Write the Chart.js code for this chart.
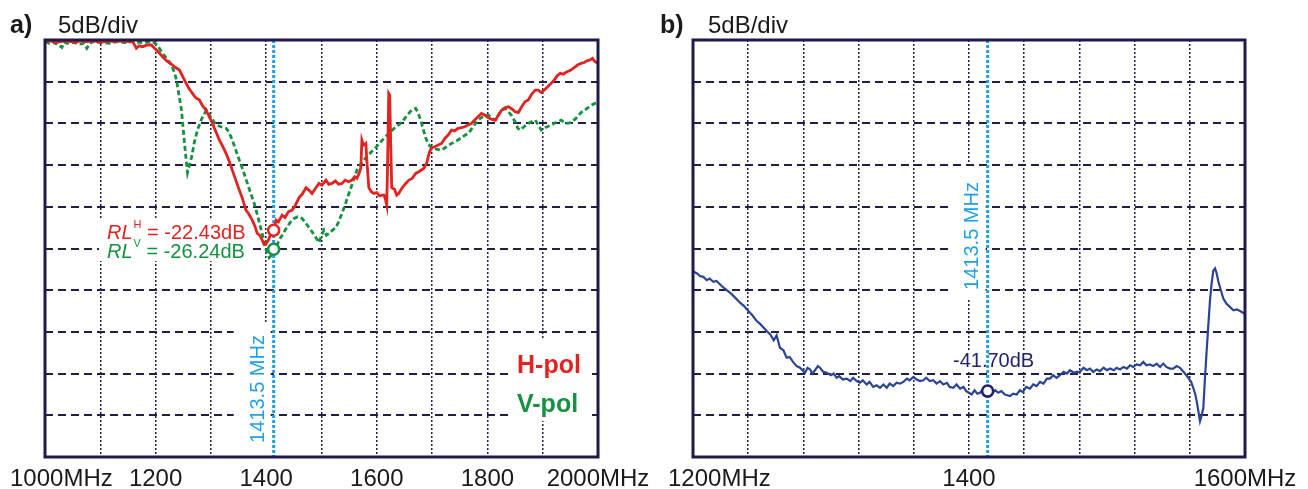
<!DOCTYPE html>
<html>
<head>
<meta charset="utf-8">
<script src="https://cdn.jsdelivr.net/npm/chart.js@4"></script>
<style>
  html, body { margin: 0; padding: 0; background: #fff; }
  .panel { position: absolute; top: 0; width: 654px; height: 489px; }
  #panelA { left: 0; }
  #panelB { left: 654px; }
</style>
</head>
<body>
<div class="panel" id="panelA"><canvas id="chartA" width="654" height="489"></canvas></div>
<div class="panel" id="panelB"><canvas id="chartB" width="654" height="489"></canvas></div>
<script>
// marker frequency (MHz)
const markerMHz = 1413.5;

// panel a) H-pol trace
const hFreq = [1000, 1010, 1020, 1027, 1040, 1055, 1063, 1075, 1090, 1099, 1115, 1125, 1135, 1150, 1158.6,
  1165.2, 1170, 1176.6, 1185, 1192.3, 1201.3, 1206, 1212.6, 1220, 1230.6, 1236, 1243.2, 1250, 1255.3, 1260,
  1266.7, 1272, 1279.3, 1285, 1291.4, 1297, 1302.7, 1309, 1315.3, 1321, 1327.4, 1333, 1338.7, 1345, 1351.4,
  1357, 1363.4, 1368, 1374.8, 1380, 1383.8, 1388, 1392.8, 1396, 1400, 1404, 1409, 1413.5, 1418, 1422,
  1428.8, 1434, 1440, 1446.9, 1452, 1459.5, 1465, 1472.1, 1477, 1482.9, 1488, 1495.5, 1501, 1508.1, 1513,
  1518.9, 1525, 1531, 1537, 1543, 1549, 1555, 1560, 1564, 1568, 1571.2, 1573, 1576, 1580.2, 1582,
  1585.6, 1590, 1594.6, 1600, 1605, 1609, 1613, 1616, 1618, 1619.5, 1621.6, 1623.4, 1625, 1627, 1632,
  1636, 1639.6, 1645, 1652.3, 1658, 1664, 1670.3, 1676, 1684.7, 1690, 1695, 1699.1, 1705, 1711, 1717.1,
  1723, 1729, 1735.1, 1741, 1747, 1753.1, 1759, 1765, 1771.2, 1777, 1783, 1789.2, 1795, 1801, 1807,
  1814.4, 1820, 1826, 1832.4, 1838, 1845, 1850, 1855.9, 1862, 1868, 1873.9, 1880, 1886.5, 1892, 1897.3,
  1903, 1909, 1915.3, 1921, 1926, 1931.5, 1937, 1944, 1951.3, 1957, 1963, 1969.4, 1975, 1980, 1985.6,
  1990, 1994.6, 2000];
const hDb = [-0.2, -0.1, -0.3, -0.2, -0.1, -0.3, -0.1, -0.2, -0.1, -0.3, -0.1, -0.2, -0.1, -0.2, -0.2,
  -1.0, -0.7, -0.8, -0.6, -0.6, -1.2, -1.5, -2.0, -2.5, -3.0, -3.3, -3.6, -4.5, -5.2, -5.8,
  -6.4, -6.9, -7.2, -7.9, -8.4, -9.2, -10.0, -11.0, -12.0, -12.7, -13.6, -14.5, -15.6, -16.8, -18.0,
  -19.0, -20.4, -20.8, -21.6, -22.4, -23.2, -23.4, -24.0, -24.5, -24.4, -24.0, -23.1, -22.8, -21.6, -21.8,
  -21.0, -21.3, -20.6, -20.4, -19.9, -18.9, -18.5, -17.7, -18.0, -18.4, -17.9, -17.2, -17.4, -16.8, -17.3,
  -17.2, -16.9, -17.3, -17.2, -16.8, -17.0, -16.8, -16.4, -16.6, -16.0, -15.3, -12.0, -12.6, -12.4, -14.5,
  -17.7, -18.2, -18.4, -18.3, -18.7, -18.6, -18.6, -19.2, -19.8, -15.0, -6.4, -6.6, -12.0, -17.7, -17.9,
  -18.6, -18.4, -17.8, -17.2, -16.8, -16.6, -16.0, -15.8, -15.4, -14.8, -13.5, -12.9, -12.8, -12.6, -12.4,
  -11.8, -11.4, -10.8, -10.9, -10.6, -10.5, -10.4, -10.2, -10.0, -9.6, -9.2, -8.8, -9.0, -9.3, -9.5,
  -9.6, -9.0, -8.4, -8.1, -8.0, -8.3, -8.6, -8.7, -8.0, -7.4, -7.2, -6.5, -6.0, -6.0, -6.3,
  -6.0, -5.6, -5.2, -4.8, -4.3, -4.0, -4.1, -3.8, -3.6, -3.3, -3.0, -2.8, -2.7, -2.5, -2.4,
  -2.2, -2.6, -2.8];

// panel a) V-pol trace
const vFreq = [1000, 1008, 1015, 1022, 1030.6, 1035, 1039.6, 1050, 1063, 1070, 1075.7, 1081, 1086.5, 1100,
  1117, 1130, 1145, 1158.6, 1175, 1194.6, 1203, 1212.6, 1220, 1228.8, 1234, 1237.8, 1242, 1246.8, 1249.5,
  1252.3, 1255, 1257.7, 1260.5, 1264.9, 1270, 1275.7, 1283, 1291.9, 1300, 1309.9, 1318, 1327.9, 1333,
  1338.7, 1345, 1351.4, 1358, 1364, 1371, 1378.4, 1385, 1391, 1396, 1400, 1405.4, 1410, 1414.4, 1419,
  1423.4, 1430, 1436, 1443, 1450.5, 1457, 1464.9, 1471, 1477.5, 1484, 1490.1, 1495.5, 1500, 1504.5, 1509,
  1513.5, 1520, 1526.1, 1531, 1536.9, 1543, 1549.5, 1557, 1564, 1572, 1580.2, 1589, 1598.2, 1610, 1621.6,
  1633, 1645, 1654, 1663, 1670.3, 1675, 1679.3, 1684, 1688.3, 1693, 1699.1, 1708, 1717.1, 1726, 1735.1,
  1744, 1753.1, 1760, 1765.8, 1772, 1778.4, 1784, 1789.2, 1795, 1801.8, 1808, 1814.4, 1820, 1826, 1832.4,
  1838, 1843.2, 1850, 1855, 1859.5, 1866, 1873.9, 1880, 1886.5, 1892, 1897.3, 1905, 1915.3, 1924, 1933.3,
  1942, 1951.3, 1960, 1969.4, 1976, 1982, 1988, 1994.6, 2000];
const vDb = [-0.2, -0.4, -0.3, -0.5, -0.9, -0.3, -0.4, -0.3, -0.5, -0.4, -1.0, -0.4, -0.2, -0.3,
  -0.4, -0.2, -0.3, -0.2, -0.3, -0.2, -0.6, -1.6, -2.2, -3.0, -3.9, -4.8, -6.5, -8.4, -10.4,
  -12.4, -14.2, -15.9, -15.2, -14.1, -12.3, -10.8, -9.5, -8.4, -9.3, -10.2, -10.4, -10.6, -11.1,
  -12.0, -13.2, -14.4, -15.6, -16.8, -18.2, -19.6, -21.2, -22.8, -24.0, -25.2, -26.1, -25.8, -25.6, -24.7,
  -24.0, -23.3, -22.6, -21.9, -21.4, -21.2, -21.4, -21.9, -22.5, -23.1, -23.7, -24.3, -23.4, -22.8, -23.4,
  -23.2, -22.8, -22.5, -21.8, -20.8, -19.7, -18.4, -17.0, -15.6, -14.8, -14.1, -13.5, -12.9, -12.0, -11.2,
  -10.5, -9.9, -9.1, -8.4, -8.2, -8.8, -9.6, -10.7, -11.7, -12.5, -12.9, -13.1, -13.2, -12.8, -12.4,
  -12.1, -11.7, -11.4, -11.2, -10.6, -10.0, -9.6, -9.3, -9.1, -9.0, -9.4, -9.6, -9.0, -8.4, -8.2,
  -8.6, -9.0, -9.8, -10.6, -10.8, -10.4, -10.0, -9.8, -9.6, -10.2, -10.8, -10.5, -10.2, -9.9, -9.6,
  -10.0, -9.9, -9.4, -8.7, -8.4, -8.1, -7.8, -7.6, -7.5];

// panel b) trace
const bFreq = [1200.5, 1203, 1205, 1207.5, 1210, 1212, 1214.7, 1217, 1220.8, 1223, 1226.8, 1230, 1234.1, 1237,
  1240.1, 1243, 1246.2, 1249, 1253.4, 1256, 1258.5, 1260.6, 1263, 1265.5, 1267.9, 1270, 1272.5, 1275.1,
  1277.5, 1281.2, 1283, 1284.8, 1286.5, 1288.4, 1290.5, 1292, 1294.5, 1296.9, 1300, 1302, 1304.1, 1306,
  1308.5, 1311.4, 1314, 1316, 1318.6, 1321, 1323, 1325.9, 1328, 1330.5, 1333.1, 1335.5, 1338, 1340.4,
  1342.5, 1345.1, 1347.5, 1350, 1352.4, 1355, 1357, 1359.6, 1362, 1364.5, 1366.9, 1369, 1371.5, 1374.1,
  1376.5, 1379, 1381.4, 1384, 1386, 1388.6, 1391, 1393.5, 1395.9, 1398, 1400, 1401.9, 1404, 1406, 1408,
  1410, 1412, 1414, 1416.5, 1419, 1421.2, 1423.5, 1426, 1429.7, 1432, 1434.5, 1436.9, 1439, 1441.5,
  1444.2, 1446.5, 1449, 1451.4, 1454, 1456.5, 1458.7, 1461, 1463.5, 1465.9, 1468.5, 1471, 1473.2, 1476,
  1478, 1480.4, 1483, 1485.5, 1487.7, 1490, 1492.5, 1494.9, 1497.5, 1500, 1502.2, 1505, 1507, 1509.4,
  1512, 1514.5, 1516.7, 1519, 1521.5, 1524, 1526.3, 1528.5, 1531, 1533.5, 1536, 1538.5, 1540.8, 1543,
  1545.5, 1548, 1550.5, 1552.9, 1555.5, 1558.9, 1561, 1562.5, 1564, 1565, 1566.3, 1567.4, 1568.6, 1569.8,
  1571, 1572.2, 1573.5, 1574.6, 1575.8, 1577, 1578.3, 1579.5, 1580.6, 1582.5, 1584.3, 1586.5, 1589,
  1591.6, 1594, 1596.4, 1598.5, 1600];
const bDb = [-27.8, -28.0, -28.3, -28.4, -28.8, -28.6, -29.0, -28.9, -29.5, -29.8, -30.3, -30.8, -31.5, -31.9,
  -32.5, -33.0, -33.7, -34.1, -34.9, -35.3, -36.0, -35.4, -36.9, -37.2, -38.1, -38.0, -38.6, -39.1,
  -39.3, -39.9, -39.3, -39.5, -40.0, -39.6, -39.1, -39.3, -39.8, -39.9, -40.2, -40.0, -40.5, -40.3,
  -40.7, -40.6, -40.9, -40.5, -40.9, -41.1, -40.8, -41.3, -41.0, -41.6, -41.4, -41.7, -41.3, -41.7,
  -41.2, -41.5, -41.1, -41.2, -41.0, -40.6, -40.8, -40.4, -40.7, -40.9, -40.8, -40.5, -40.9, -40.8,
  -41.2, -40.9, -41.3, -41.1, -41.6, -41.7, -41.3, -41.8, -41.6, -42.1, -42.3, -42.5, -42.0, -42.4, -42.3,
  -41.9, -42.3, -42.1, -42.4, -42.0, -42.3, -42.1, -42.5, -42.7, -42.4, -42.5, -42.0, -42.2, -41.6,
  -41.8, -41.3, -41.5, -41.0, -41.2, -40.6, -40.6, -40.2, -40.5, -40.2, -39.8, -40.0, -39.6, -39.9,
  -39.8, -39.8, -39.3, -39.6, -39.4, -39.8, -39.5, -39.7, -39.3, -39.6, -39.4, -39.6, -39.3, -39.5,
  -39.2, -39.4, -39.0, -39.2, -38.9, -39.0, -38.6, -39.0, -38.9, -39.1, -38.8, -39.2, -38.8, -39.2,
  -39.4, -39.4, -39.1, -39.3, -39.8, -40.5, -41.0, -41.7, -42.5, -43.3, -44.6, -45.7, -45.0, -44.1,
  -40.5, -37.3, -34.0, -31.3, -29.2, -27.7, -27.4, -28.0, -28.9, -30.0, -31.0, -31.6, -32.0,
  -32.4, -32.3, -32.5, -32.7, -32.9];

// marker readings (as placed in the picture)
const markerA = { h: -22.8, v: -25.1 };
const markerB = -42.1;

// tick labels
const xTicksA = [1000, 1200, 1400, 1600, 1800, 2000];
const xTickTextA = ['1000MHz', '1200', '1400', '1600', '1800', '2000MHz'];
const xTicksB = [1200, 1400, 1600];
const xTickTextB = ['1200MHz', '1400', '1600MHz'];

const RED = '#e3231f';
const GREEN = '#15913f';
const NAVY = '#2c4593';
const MARK = '#1ea0e6';
const GRID = '#1f1f48';
const FONT = '"Liberation Sans", Arial, sans-serif';

const pts = (xs, ys) => xs.map((x, i) => ({ x, y: ys[i] }));

// draws frame, tick labels and text notes
const decorPlugin = {
  id: 'decor',
  beforeDatasetsDraw(chart, args, opts) {
    const ctx = chart.ctx;
    const mx = chart.scales.x.getPixelForValue(markerMHz);
    ctx.save();
    ctx.fillStyle = '#fff';
    (opts.boxes || []).forEach((b) => {
      const x0 = b.rel ? mx + b.x0 : b.x0;
      const x1 = b.rel ? mx + b.x1 : b.x1;
      ctx.fillRect(x0, b.y0, x1 - x0, b.y1 - b.y0);
    });
    ctx.restore();
  },
  afterDatasetsDraw(chart) {
    const { ctx, chartArea } = chart;
    ctx.save();
    ctx.strokeStyle = '#1e1b4b';
    ctx.lineWidth = 3;
    ctx.strokeRect(chartArea.left, chartArea.top, chartArea.right - chartArea.left, chartArea.bottom - chartArea.top);
    ctx.restore();
  },
  afterDraw(chart, args, opts) {
    const ctx = chart.ctx;
    const xs = chart.scales.x;
    const mx = xs.getPixelForValue(markerMHz);
    ctx.save();
    ctx.textBaseline = 'alphabetic';
    ctx.fillStyle = '#1a1a1a';
    // panel title
    ctx.font = 'bold 25px ' + FONT;
    ctx.textAlign = 'left';
    ctx.fillText(opts.tag, opts.tagX, 33);
    ctx.font = '24px ' + FONT;
    ctx.fillText('5dB/div', opts.tagX + 48, 33);
    // tick labels
    ctx.font = '24px ' + FONT;
    opts.ticks.forEach((v, i) => {
      let x = xs.getPixelForValue(v);
      if (i === 0) {
        ctx.textAlign = 'left';
        x -= opts.firstShift;
      } else {
        ctx.textAlign = 'center';
      }
      ctx.fillText(opts.tickText[i], x, 486);
    });
    // rotated marker label
    ctx.save();
    ctx.translate(mx - 16, opts.markY);
    ctx.rotate(-Math.PI / 2);
    ctx.font = '20px ' + FONT;
    ctx.fillStyle = MARK;
    ctx.textAlign = 'center';
    ctx.textBaseline = 'middle';
    ctx.fillText(markerMHz + ' MHz', 0, 1);
    ctx.restore();
    if (opts.draw) opts.draw(ctx, mx);
    ctx.restore();
  }
};

function rlText(ctx, x, y, sup, value, color) {
  ctx.fillStyle = color;
  ctx.textAlign = 'left';
  ctx.textBaseline = 'middle';
  ctx.font = 'italic 20px ' + FONT;
  ctx.fillText('RL', x, y);
  let w = ctx.measureText('RL').width;
  ctx.font = '11px ' + FONT;
  ctx.fillText(sup, x + w + 1, y - 8);
  w += 1 + ctx.measureText(sup).width;
  ctx.font = '20px ' + FONT;
  ctx.fillText(' = ' + value, x + w, y);
}

function makeChart(id, cfg) {
  return new Chart(document.getElementById(id), {
    type: 'scatter',
    data: { datasets: cfg.datasets },
    options: {
      animation: false,
      responsive: false,
      devicePixelRatio: 1,
      layout: { padding: cfg.padding },
      plugins: { legend: { display: false }, tooltip: { enabled: false }, decor: cfg.decor },
      scales: {
        x: {
          type: 'linear', min: cfg.xMin, max: cfg.xMax,
          ticks: { display: false, stepSize: cfg.xStep },
          grid: { color: GRID, lineWidth: 1.5, drawTicks: false },
          border: { display: false, dash: [2, 2] }
        },
        y: {
          type: 'linear', min: -50, max: 0,
          ticks: { display: false, stepSize: 5 },
          grid: { color: GRID, lineWidth: 2, drawTicks: false },
          border: { display: false, dash: [8, 5] }
        }
      }
    },
    plugins: [decorPlugin]
  });
}

const lineDs = (data, color, width, dash) => ({
  data, showLine: true, borderColor: color, borderWidth: width, borderDash: dash || [],
  pointRadius: 0, tension: 0
});
const circleDs = (x, y, color) => ({
  data: [{ x, y }], showLine: false, pointRadius: 5.5, pointBorderWidth: 2.5,
  pointBorderColor: color, pointBackgroundColor: '#fff'
});
const markerDs = () => ({
  data: [{ x: markerMHz, y: 0 }, { x: markerMHz, y: -50 }], showLine: true,
  borderColor: MARK, borderWidth: 3, borderDash: [3, 2], pointRadius: 0
});

makeChart('chartA', {
  xMin: 1000, xMax: 2000, xStep: 100,
  padding: { left: 45, top: 40, right: 56, bottom: 32 },
  datasets: [
    circleDs(markerMHz, markerA.v, GREEN),
    circleDs(markerMHz, markerA.h, RED),
    lineDs(pts(hFreq, hDb), RED, 2.8),
    lineDs(pts(vFreq, vDb), GREEN, 2.8, [5, 3]),
    markerDs()
  ],
  decor: {
    tag: 'a)', tagX: 10, ticks: xTicksA, tickText: xTickTextA, firstShift: 35, markY: 389,
    boxes: [
      { rel: true, x0: -40, x1: -3, y0: 322, y1: 456 },
      { x0: 99, x1: 248, y0: 218, y1: 261 },
      { x0: 513, x1: 592, y0: 339, y1: 421 }
    ],
    draw(ctx) {
      rlText(ctx, 107, 233, 'H', '-22.43dB', RED);
      rlText(ctx, 107, 252, 'V', '-26.24dB', GREEN);
      ctx.font = 'bold 25px ' + FONT;
      ctx.textAlign = 'left';
      ctx.textBaseline = 'middle';
      ctx.fillStyle = RED;
      ctx.fillText('H-pol', 517, 366);
      ctx.fillStyle = GREEN;
      ctx.fillText('V-pol', 517, 405);
    }
  }
});

makeChart('chartB', {
  xMin: 1200, xMax: 1600, xStep: 40,
  padding: { left: 39, top: 40, right: 63, bottom: 32 },
  datasets: [
    circleDs(markerMHz, markerB, '#1f1f6e'),
    lineDs(pts(bFreq, bDb), NAVY, 2.2),
    markerDs()
  ],
  decor: {
    tag: 'b)', tagX: 6, ticks: xTicksB, tickText: xTickTextB, firstShift: 25, markY: 236,
    boxes: [
      { rel: true, x0: -36, x1: -2, y0: 168, y1: 298 },
      { x0: 297, x1: 384, y0: 350, y1: 370 }
    ],
    draw(ctx) {
      ctx.font = '20px ' + FONT;
      ctx.textAlign = 'left';
      ctx.textBaseline = 'middle';
      ctx.fillStyle = '#22226e';
      ctx.fillText('-41.70dB', 299, 361);
    }
  }
});
</script>
</body>
</html>
